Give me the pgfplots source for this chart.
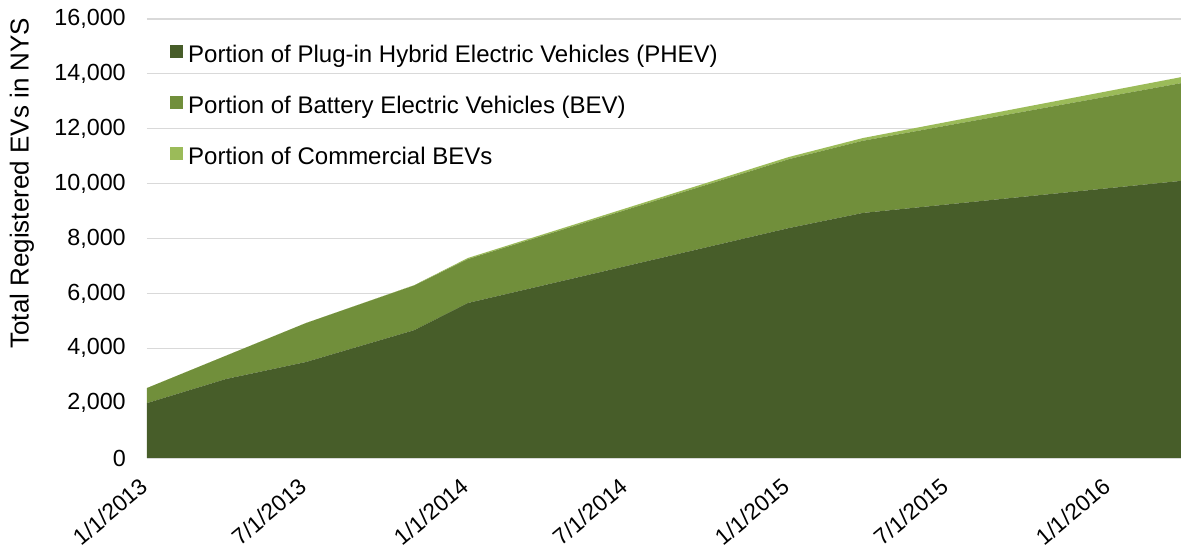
\documentclass[border=0pt]{standalone}
\usepackage{pgfplots}
\pgfplotsset{compat=1.18}
\usepackage{fontspec}
\setmainfont{Liberation Sans}
\definecolor{phev}{RGB}{71,93,41}
\definecolor{bev}{RGB}{113,143,59}
\definecolor{com}{RGB}{155,187,89}
\definecolor{gridc}{RGB}{217,217,217}
\begin{document}
\begin{tikzpicture}
\path[use as bounding box] (-110.25pt,-67.5pt) rectangle (775.5pt,343.5pt);
\begin{axis}[
  at={(0,0)}, anchor=south west,
  scale only axis,
  width=775.5pt, height=329.25pt,
  xmin=0, xmax=1176, ymin=0, ymax=16000,
  stack plots=y,
  axis x line*=bottom, axis y line*=left,
  x axis line style={draw=gridc, -},
  y axis line style={draw=none},
  tick style={draw=none},
  ymajorgrids, grid style={gridc, line width=0.9pt},
  ytick={0,2000,...,16000},
  xtick={0,181,365,546,730,911,1095},
  xticklabels={\rotatebox{40}{1/1/2013},\rotatebox{40}{7/1/2013},\rotatebox{40}{1/1/2014},\rotatebox{40}{7/1/2014},\rotatebox{40}{1/1/2015},\rotatebox{40}{7/1/2015},\rotatebox{40}{1/1/2016}},
  /pgf/number format/assume math mode=true,
  /pgf/number format/1000 sep={,},
  scaled y ticks=false,
  yticklabel style={font=\fontsize{17.5}{20}\selectfont, inner sep=0pt, xshift=-15.75pt},
  xticklabel style={font=\fontsize{17}{20}\selectfont, anchor=north east, inner sep=0pt, yshift=-14pt, xshift=2pt},
  ylabel={Total Registered EVs in NYS},
  ylabel style={font=\fontsize{19.5}{22}\selectfont, at={(axis description cs:-0.1209,0.626)}, anchor=center},
  legend style={at={(axis description cs:0.0222,0.941)}, anchor=north west, draw=none, fill=none,
    font=\fontsize{18}{21}\selectfont, inner sep=0pt, row sep=21.5pt, column sep=3.75pt,
    nodes={inner sep=0pt, text height=12.5pt, text depth=4pt}},
  legend cell align=left,
  legend image code/.code={\fill[#1] (0pt,-1.2pt) rectangle (9.75pt,8.55pt);},
  legend entries={Portion of Plug-in Hybrid Electric Vehicles (PHEV),Portion of Battery Electric Vehicles (BEV),Portion of Commercial BEVs},
]
\addplot[fill=phev, draw=none] coordinates {
 (0,2000) (90,2880) (181,3500) (304,4660) (365,5650) (730,8380) (814,8930) (1176,10100)} \closedcycle;
\addplot[fill=bev, draw=none] coordinates {
 (0,550) (90,850) (181,1420) (304,1630) (365,1600) (730,2510) (814,2630) (1176,3560)} \closedcycle;
\addplot[fill=com, draw=none] coordinates {
 (0,0) (90,0) (181,0) (304,10) (365,40) (730,80) (814,100) (1176,220)} \closedcycle;
\end{axis}
\end{tikzpicture}
\end{document}
